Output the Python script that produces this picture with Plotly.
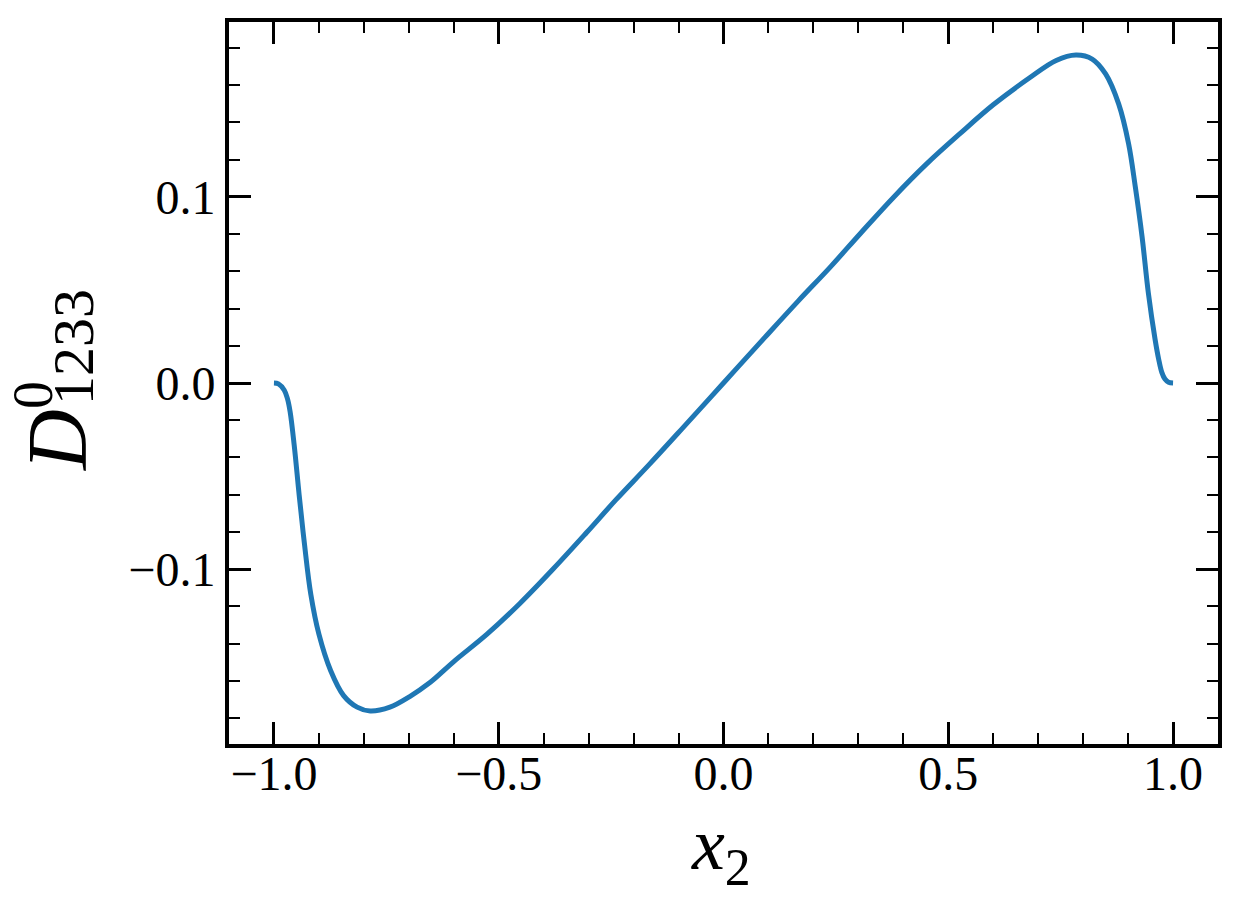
import plotly.graph_objects as go

# values
x2 = [-1.0, -0.990, -0.977, -0.970, -0.964, -0.955, -0.944, -0.932, -0.918, -0.900,
      -0.874, -0.845, -0.815, -0.786, -0.742, -0.698, -0.653, -0.600, -0.526, -0.453,
      -0.379, -0.305, -0.239, -0.166, -0.092, 0.0, 0.092, 0.166, 0.239, 0.305,
      0.379, 0.453, 0.526, 0.600, 0.681, 0.740, 0.784, 0.820, 0.850, 0.879,
      0.901, 0.916, 0.931, 0.945, 0.960, 0.968, 0.975, 0.982, 0.990, 1.0]
d1233 = [0.0, -0.0005, -0.0039, -0.0084, -0.0155, -0.0333, -0.060, -0.0868, -0.1136, -0.135,
         -0.1545, -0.168, -0.1742, -0.1763, -0.1742, -0.1685, -0.1610, -0.1497, -0.1350, -0.1185,
         -0.100, -0.0805, -0.0627, -0.0440, -0.0245, 0.0, 0.0245, 0.0440, 0.0627, 0.0805,
         0.100, 0.1180, 0.1340, 0.1495, 0.1640, 0.1733, 0.1762, 0.1741, 0.1661, 0.150,
         0.1287, 0.1055, 0.0788, 0.0485, 0.0235, 0.0128, 0.0057, 0.0021, 0.0004, 0.0]

X_TICKS = [-1.0, -0.5, 0.0, 0.5, 1.0]
X_TICK_TEXT = ["\u22121.0", "\u22120.5", "0.0", "0.5", "1.0"]
Y_TICKS = [-0.1, 0.0, 0.1]
Y_TICK_TEXT = ["\u22120.1", "0.0", "0.1"]

SERIF = "Liberation Serif, Times New Roman, serif"

fig = go.Figure()
fig.add_trace(go.Scatter(x=x2, y=d1233, mode="lines",
                         line=dict(color="#1f77b4", width=5, shape="spline", smoothing=1.0),
                         hoverinfo="skip", showlegend=False))

axis_style = dict(showline=True, linewidth=4, linecolor="black", mirror="ticks",
                  ticks="inside", ticklen=22, tickwidth=3, tickcolor="black",
                  showgrid=False, zeroline=False,
                  tickfont=dict(family=SERIF, size=48, color="black"))

fig.update_xaxes(range=[-1.1, 1.1], tickvals=X_TICKS, ticktext=X_TICK_TEXT,
                 ticklabelstandoff=-16,
                 minor=dict(ticks="inside", ticklen=11, tickwidth=2, dtick=0.1, tick0=0,
                            tickcolor="black"),
                 **axis_style)
fig.update_yaxes(range=[-0.194, 0.194], tickvals=Y_TICKS, ticktext=Y_TICK_TEXT,
                 ticklabelstandoff=0,
                 minor=dict(ticks="inside", ticklen=11, tickwidth=2, dtick=0.02, tick0=0,
                            tickcolor="black"),
                 **axis_style)

# x label: x_2
fig.add_annotation(xref="paper", yref="paper", x=0.5, y=0, xanchor="center", yanchor="top",
                   xshift=-3, yshift=-57, showarrow=False, text="<i>x</i><sub>2</sub>",
                   font=dict(family=SERIF, size=74, color="black"))

# y label: D with stacked superscript 0 and subscript 1233
fig.add_annotation(xref="paper", yref="paper", x=0, y=0.5, xanchor="center", yanchor="middle",
                   xshift=-172, yshift=-57, textangle=-90, showarrow=False, text="<i>D</i>",
                   font=dict(family=SERIF, size=84, color="black"))
fig.add_annotation(xref="paper", yref="paper", x=0, y=0.5, xanchor="center", yanchor="middle",
                   xshift=-156, yshift=36, textangle=-90, showarrow=False, text="1233",
                   font=dict(family=SERIF, size=58, color="black"))
fig.add_annotation(xref="paper", yref="paper", x=0, y=0.5, xanchor="center", yanchor="middle",
                   xshift=-196, yshift=-12, textangle=-90, showarrow=False, text="0",
                   font=dict(family=SERIF, size=56, color="black"))

# the page body adds an 8px offset, so the figure is sized to fit inside the window
fig.update_layout(width=1224, height=892, margin=dict(l=221, r=11, t=10, b=156),
                  plot_bgcolor="white", paper_bgcolor="white", showlegend=False)

fig.write_html("out.html")
